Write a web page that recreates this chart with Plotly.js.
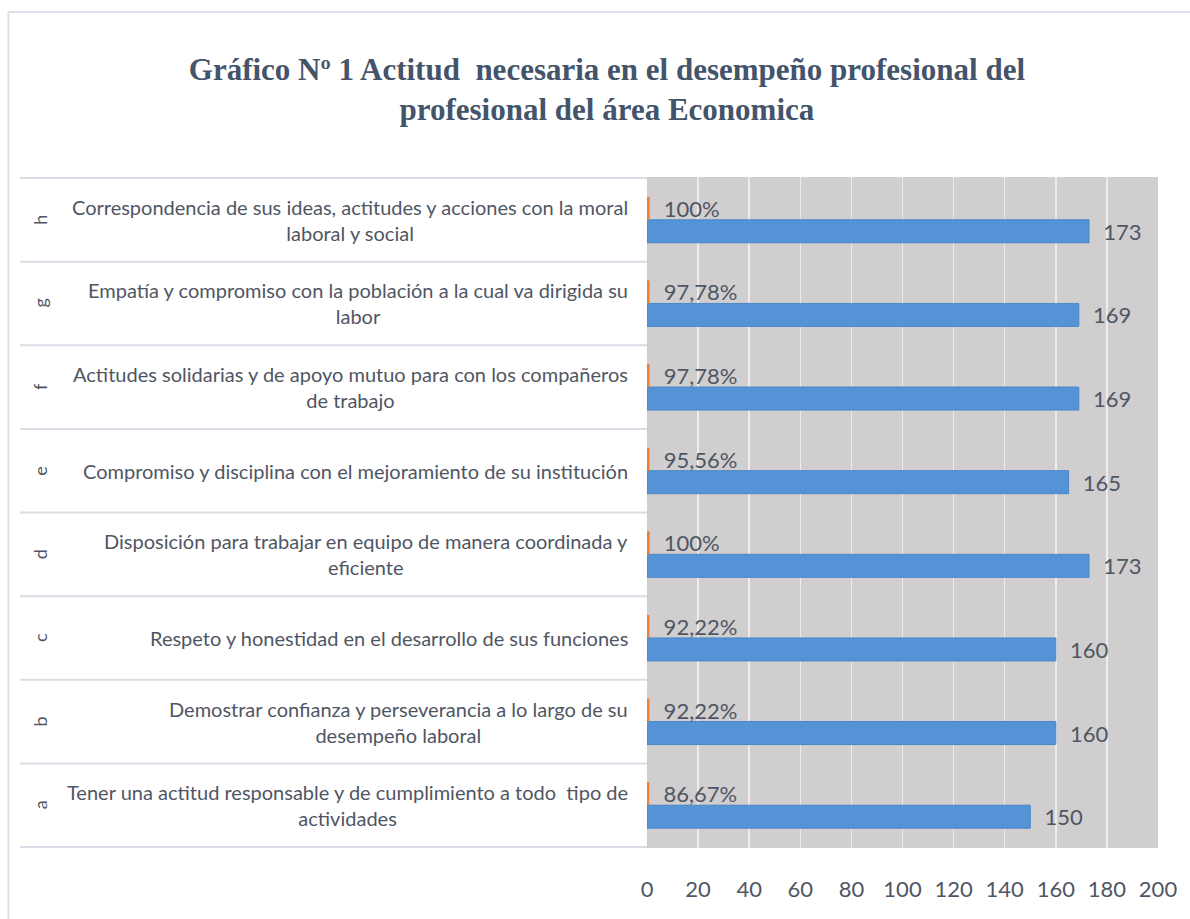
<!DOCTYPE html>
<html>
<head>
<meta charset="utf-8">
<script src="https://cdn.plot.ly/plotly-3.0.1.min.js"></script>
<style>
  html, body { margin: 0; padding: 0; background: #ffffff; }
  #chart { width: 1190px; height: 919px; }
</style>
</head>
<body>
<div id="chart"></div>
<script>
// ---- data (bottom to top: a .. h) ----
const letters = ["a", "b", "c", "d", "e", "f", "g", "h"];
const labels = [
  "Tener una actitud responsable y de cumplimiento a todo  tipo de<br>actividades",
  "Demostrar confianza y perseverancia a lo largo de su<br>desempeño laboral",
  "Respeto y honestidad en el desarrollo de sus funciones",
  "Disposición para trabajar en equipo de manera coordinada y<br>eficiente",
  "Compromiso y disciplina con el mejoramiento de su institución",
  "Actitudes solidarias y de apoyo mutuo para con los compañeros<br>de trabajo",
  "Empatía y compromiso con la población a la cual va dirigida su<br>labor",
  "Correspondencia de sus ideas, actitudes y acciones con la moral<br>laboral y social"
];
const counts = [150, 160, 160, 173, 165, 169, 169, 173];
const percents = [86.67, 92.22, 92.22, 100, 95.56, 97.78, 97.78, 100];
const xTicks = [0, 20, 40, 60, 80, 100, 120, 140, 160, 180, 200];
const titleText = "Gráfico Nº 1 Actitud  necesaria en el desempeño profesional del<br>profesional del área Economica";

// ---- styling ----
const SANS = "Lato, 'Open Sans', sans-serif";
const TXT = "#4f5663";
const L = 647, R = 32, T = 177, B = 71, WIDTH = 1190, HEIGHT = 919;
const PW = WIDTH - L - R, PH = HEIGHT - T - B;
const px2x = p => (p - L) / PW;
const py2y = p => 1 - (p - T) / PH;

function fmtPct(v) {
  const s = (Math.round(v * 100) / 100).toString().replace(".", ",");
  return "\u00a0\u00a0" + s + "%";
}

const traceCount = {
  type: "bar",
  orientation: "h",
  y: letters,
  x: counts,
  text: counts.map(v => "\u00a0\u00a0" + v),
  textposition: "outside",
  textfont: { family: SANS, size: 22, color: TXT },
  constraintext: "none",
  cliponaxis: false,
  marker: { color: "#5593d7", line: { color: "#4a86c8", width: 1 } },
  hoverinfo: "x+y",
  showlegend: false
};
const tracePct = {
  type: "bar",
  orientation: "h",
  y: letters,
  x: percents.map(v => v / 100),
  text: percents.map(fmtPct),
  textposition: "outside",
  textfont: { family: SANS, size: 22, color: TXT },
  constraintext: "none",
  cliponaxis: false,
  marker: { color: "#ed7d31" },
  hoverinfo: "text+y",
  showlegend: false
};

const annotations = [];
const shapes = [];
letters.forEach((l, i) => {
  annotations.push({
    xref: "paper", yref: "y", x: px2x(40), y: l,
    text: l, showarrow: false, textangle: -90,
    xanchor: "center", yanchor: "middle",
    font: { family: SANS, size: 18, color: TXT }
  });
  annotations.push({
    xref: "paper", yref: "y", x: 0, y: l, xshift: -17,
    text: labels[i], showarrow: false, align: "center",
    xanchor: "right", yanchor: "middle",
    font: { family: SANS, size: 20, color: TXT }
  });
});
for (let k = 0; k <= letters.length; k++) {
  shapes.push({
    type: "line", xref: "paper", yref: "y",
    x0: px2x(20), x1: 0, y0: k - 0.5, y1: k - 0.5,
    line: { color: "#d9dde6", width: 2 }
  });
}
// outer chart frame (left and top edges)
shapes.push({
  type: "line", xref: "paper", yref: "paper",
  x0: px2x(8.5), x1: px2x(8.5), y0: py2y(12), y1: py2y(930),
  line: { color: "#dde2ea", width: 2 }
});
shapes.push({
  type: "line", xref: "paper", yref: "paper",
  x0: px2x(8.5), x1: px2x(1200), y0: py2y(12), y1: py2y(12),
  line: { color: "#dde2ea", width: 2 }
});

const layout = {
  width: WIDTH, height: HEIGHT,
  margin: { l: L, r: R, t: T, b: B, pad: 0 },
  paper_bgcolor: "#ffffff",
  plot_bgcolor: "#d0cece",
  barmode: "group",
  bargap: 0.45,
  bargroupgap: 0,
  title: {
    text: titleText,
    xref: "container", yref: "container",
    x: 0.51, xanchor: "center",
    y: 1 - 80 / HEIGHT, yanchor: "top",
    font: { family: "'Liberation Serif', 'Times New Roman', serif", size: 31, color: "#44546a", weight: "bold" }
  },
  xaxis: {
    range: [0, 200],
    tickvals: xTicks,
    ticktext: xTicks.map(String),
    showgrid: true, gridcolor: "#ececec", gridwidth: 1.5,
    zeroline: false, showline: false,
    ticks: "", ticklabelstandoff: 26,
    tickfont: { family: SANS, size: 22, color: TXT },
    fixedrange: true
  },
  yaxis: {
    type: "category",
    categoryorder: "array", categoryarray: letters,
    showticklabels: false, showgrid: false, zeroline: false, showline: false,
    ticks: "", fixedrange: true
  },
  annotations: annotations,
  shapes: shapes,
  showlegend: false
};

Plotly.newPlot("chart", [traceCount, tracePct], layout, { displayModeBar: false, staticPlot: true });
</script>
</body>
</html>
